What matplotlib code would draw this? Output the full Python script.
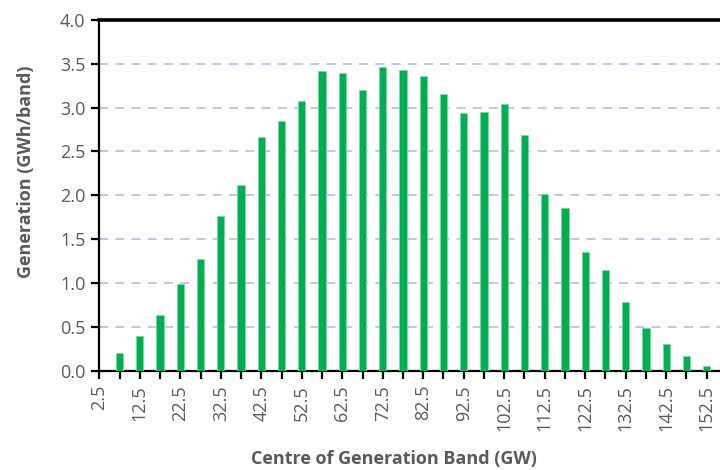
import matplotlib.pyplot as plt

plt.rcParams['font.family'] = ['Open Sans', 'DejaVu Sans']

# band centres (GW) and generation per band (GWh)
bands = [2.5, 7.5, 12.5, 17.5, 22.5, 27.5, 32.5, 37.5, 42.5, 47.5, 52.5,
         57.5, 62.5, 67.5, 72.5, 77.5, 82.5, 87.5, 92.5, 97.5, 102.5,
         107.5, 112.5, 117.5, 122.5, 127.5, 132.5, 137.5, 142.5, 147.5, 152.5]
generation = [0.0, 0.20, 0.40, 0.635, 0.99, 1.27, 1.76, 2.115, 2.66, 2.85, 3.075,
              3.42, 3.395, 3.205, 3.465, 3.43, 3.36, 3.155, 2.935, 2.945, 3.04,
              2.685, 2.02, 1.855, 1.355, 1.145, 0.785, 0.495, 0.31, 0.17, 0.055]
tick_labels = [str(b) if i % 2 == 0 else '' for i, b in enumerate(bands)]

grey = '#595959'

fig = plt.figure(figsize=(7.2, 4.7), dpi=100)
ax = fig.add_axes([0.138, 0.2106, 0.862, 0.7475])

ax.bar(bands, generation, width=1.8, color='#00B050', edgecolor='#7FD8A7',
       linewidth=0.6, zorder=3)

ax.set_xlim(2.5, 155.8)
ax.set_ylim(0, 4.0)
ax.set_yticks([0, 0.5, 1.0, 1.5, 2.0, 2.5, 3.0, 3.5, 4.0])
ax.set_yticklabels(['%.1f' % v for v in ax.get_yticks()])
ax.set_xticks(bands)
ax.set_xticklabels(tick_labels, rotation=90)

for v in [0.5, 1.0, 1.5, 2.0, 2.5, 3.0, 3.5]:
    ax.axhline(v, color='#B4C7E7', linestyle=(0, (5, 4)), linewidth=1.3, zorder=1)

ax.spines['right'].set_visible(False)
for s in ['left', 'bottom']:
    ax.spines[s].set_linewidth(1.6)
    ax.spines[s].set_color('black')
ax.spines['top'].set_linewidth(2.6)
ax.spines['top'].set_color('black')

ax.tick_params(axis='both', direction='out', length=6, width=1.6, color='black',
               labelcolor=grey, labelsize=13, pad=4)

fig.text(26 / 720, 1 - 171.5 / 470, 'Generation (GWh/band)', rotation=90,
         ha='center', va='center', fontsize=13, fontweight='bold', color=grey)
fig.text(394 / 720, 1 - 459 / 470, 'Centre of Generation Band (GW)',
         ha='center', va='center', fontsize=13, fontweight='bold', color=grey)

fig.savefig('out.png', dpi=100)
